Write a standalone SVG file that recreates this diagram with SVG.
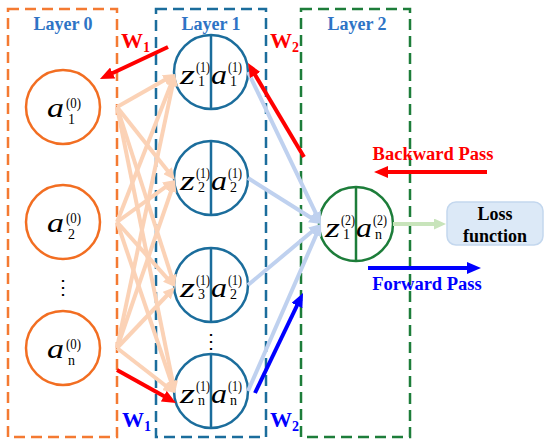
<svg xmlns="http://www.w3.org/2000/svg" width="550" height="447" viewBox="0 0 550 447">
<style>
.box{fill:none;stroke-width:2.5;stroke-dasharray:11 6}
.lbl{font-family:'Liberation Serif','Times New Roman',serif;font-weight:bold;font-size:18px;fill:#2e74c5;text-anchor:middle}
.n0{fill:#fff;stroke:#f26e22;stroke-width:2.5}
.n1{fill:#fff;stroke:#1b6d9c;stroke-width:2.5}
.n2{fill:#fff;stroke:#1d7d3a;stroke-width:2.5}
.mi{font-family:'Liberation Serif','Times New Roman',serif;font-style:italic;font-size:28px;fill:#000}
.ms{font-family:'Liberation Serif','Times New Roman',serif;font-size:14px;fill:#000}
.lo{stroke:#fbd2b6;stroke-width:4;fill:none;marker-end:url(#mo)}
.lb{stroke:#bfd1ef;stroke-width:4;fill:none;marker-end:url(#mb)}
.red{stroke:#ff0000;stroke-width:4;fill:none;marker-end:url(#mr)}
.blu{stroke:#0000ff;stroke-width:4;fill:none;marker-end:url(#mu)}
.wr{font-family:'Liberation Serif','Times New Roman',serif;font-weight:bold;font-size:22px;fill:#ff0000}
.wb{font-family:'Liberation Serif','Times New Roman',serif;font-weight:bold;font-size:22px;fill:#0000ff}
.ws{font-size:14px}
.pass{font-family:'Liberation Serif','Times New Roman',serif;font-weight:bold;font-size:18.5px;text-anchor:middle}
.loss{font-family:'Liberation Serif','Times New Roman',serif;font-weight:bold;font-size:18px;text-anchor:middle;fill:#000}
.dot{font-family:'DejaVu Serif',serif;font-size:20px;text-anchor:middle;fill:#000}
</style>
<defs>
<marker id="mr" markerUnits="userSpaceOnUse" viewBox="0 0 14 12" markerWidth="14" markerHeight="12" refX="4" refY="6" orient="auto"><path d="M0,0 L14,6 L0,12 z" fill="#ff0000"/></marker>
<marker id="mu" markerUnits="userSpaceOnUse" viewBox="0 0 14 12" markerWidth="14" markerHeight="12" refX="4" refY="6" orient="auto"><path d="M0,0 L14,6 L0,12 z" fill="#0000ff"/></marker>
<marker id="mo" markerUnits="userSpaceOnUse" viewBox="0 0 12 11" markerWidth="12" markerHeight="11" refX="3" refY="5.5" orient="auto"><path d="M0,0 L12,5.5 L0,11 z" fill="#fbd2b6"/></marker>
<marker id="mb" markerUnits="userSpaceOnUse" viewBox="0 0 12 11" markerWidth="12" markerHeight="11" refX="3" refY="5.5" orient="auto"><path d="M0,0 L12,5.5 L0,11 z" fill="#bfd1ef"/></marker>
<marker id="mg" markerUnits="userSpaceOnUse" viewBox="0 0 12 11" markerWidth="12" markerHeight="11" refX="3" refY="5.5" orient="auto"><path d="M0,0 L12,5.5 L0,11 z" fill="#c8e4bb"/></marker>
</defs>
<rect width="550" height="447" fill="#fff"/>

<g id="layer0-box">
<rect class="box" x="8" y="9" width="109" height="428" stroke="#f47a32"/>
<text class="lbl" x="63" y="30">Layer 0</text>
</g>
<g id="layer1-box">
<rect class="box" x="156" y="9" width="110" height="428" stroke="#1b6d9c"/>
<text class="lbl" x="211" y="30">Layer 1</text>
</g>
<g id="layer2-box">
<rect class="box" x="301" y="9" width="109" height="428" stroke="#1d7d3a"/>
<text class="lbl" x="357" y="30">Layer 2</text>
</g>

<g id="a0-1">
<circle class="n0" cx="63" cy="107" r="37"/>
<text class="mi" x="47" y="117" textLength="17" lengthAdjust="spacingAndGlyphs">a</text><text class="ms" x="66" y="108" textLength="15" lengthAdjust="spacingAndGlyphs">(0)</text><text class="ms" x="68" y="124">1</text>
</g>
<g id="a0-2">
<circle class="n0" cx="63" cy="222" r="37"/>
<text class="mi" x="47" y="232" textLength="17" lengthAdjust="spacingAndGlyphs">a</text><text class="ms" x="66" y="223" textLength="15" lengthAdjust="spacingAndGlyphs">(0)</text><text class="ms" x="68" y="239">2</text>
</g>
<g id="a0-dots"><text class="dot" x="63" y="294">⋮</text></g>
<g id="a0-n">
<circle class="n0" cx="63" cy="348" r="37"/>
<text class="mi" x="47" y="358" textLength="17" lengthAdjust="spacingAndGlyphs">a</text><text class="ms" x="66" y="349" textLength="15" lengthAdjust="spacingAndGlyphs">(0)</text><text class="ms" x="68" y="365">n</text>
</g>

<g id="h1-1">
<circle class="n1" cx="211" cy="72" r="37"/><line x1="211" y1="35" x2="211" y2="109" stroke="#1b6d9c" stroke-width="2.5"/>
<text class="mi" x="180" y="84" textLength="15" lengthAdjust="spacingAndGlyphs">z</text><text class="ms" x="196" y="72" textLength="14" lengthAdjust="spacingAndGlyphs">(1)</text><text class="ms" x="198" y="86">1</text>
<text class="mi" x="211" y="84" textLength="16" lengthAdjust="spacingAndGlyphs">a</text><text class="ms" x="228" y="72" textLength="14" lengthAdjust="spacingAndGlyphs">(1)</text><text class="ms" x="230" y="86">1</text>
</g>
<g id="h1-2">
<circle class="n1" cx="211" cy="178" r="37"/><line x1="211" y1="141" x2="211" y2="215" stroke="#1b6d9c" stroke-width="2.5"/>
<text class="mi" x="180" y="190" textLength="15" lengthAdjust="spacingAndGlyphs">z</text><text class="ms" x="196" y="178" textLength="14" lengthAdjust="spacingAndGlyphs">(1)</text><text class="ms" x="198" y="192">2</text>
<text class="mi" x="211" y="190" textLength="16" lengthAdjust="spacingAndGlyphs">a</text><text class="ms" x="228" y="178" textLength="14" lengthAdjust="spacingAndGlyphs">(1)</text><text class="ms" x="230" y="192">2</text>
</g>
<g id="h1-3">
<circle class="n1" cx="211" cy="285" r="37"/><line x1="211" y1="248" x2="211" y2="322" stroke="#1b6d9c" stroke-width="2.5"/>
<text class="mi" x="180" y="297" textLength="15" lengthAdjust="spacingAndGlyphs">z</text><text class="ms" x="196" y="285" textLength="14" lengthAdjust="spacingAndGlyphs">(1)</text><text class="ms" x="198" y="299">3</text>
<text class="mi" x="211" y="297" textLength="16" lengthAdjust="spacingAndGlyphs">a</text><text class="ms" x="228" y="285" textLength="14" lengthAdjust="spacingAndGlyphs">(1)</text><text class="ms" x="230" y="299">2</text>
</g>
<g id="h1-dots"><text class="dot" x="211" y="348">⋮</text></g>
<g id="h1-n">
<circle class="n1" cx="211" cy="391" r="37"/><line x1="211" y1="354" x2="211" y2="428" stroke="#1b6d9c" stroke-width="2.5"/>
<text class="mi" x="180" y="403" textLength="15" lengthAdjust="spacingAndGlyphs">z</text><text class="ms" x="196" y="391" textLength="14" lengthAdjust="spacingAndGlyphs">(1)</text><text class="ms" x="198" y="405">n</text>
<text class="mi" x="211" y="403" textLength="16" lengthAdjust="spacingAndGlyphs">a</text><text class="ms" x="228" y="391" textLength="14" lengthAdjust="spacingAndGlyphs">(1)</text><text class="ms" x="230" y="405">n</text>
</g>

<g id="out">
<circle class="n2" cx="356" cy="224" r="37"/><line x1="356" y1="187" x2="356" y2="261" stroke="#1d7d3a" stroke-width="2.5"/>
<text class="mi" x="325" y="237" textLength="15" lengthAdjust="spacingAndGlyphs">z</text><text class="ms" x="341" y="225" textLength="14" lengthAdjust="spacingAndGlyphs">(2)</text><text class="ms" x="343" y="239">1</text>
<text class="mi" x="356" y="237" textLength="16" lengthAdjust="spacingAndGlyphs">a</text><text class="ms" x="373" y="225" textLength="14" lengthAdjust="spacingAndGlyphs">(2)</text><text class="ms" x="375" y="239">n</text>
</g>

<g id="loss">
<rect x="447" y="202" width="96" height="43" rx="9" fill="#dce9f7" stroke="#c3d7ee" stroke-width="1.5"/>
<text class="loss" x="495" y="220">Loss</text>
<text class="loss" x="495" y="242">function</text>
</g>

<g id="connectors">
<line class="lo" x1="117" y1="107" x2="167.2" y2="78.5"/>
<line class="lo" x1="117" y1="107" x2="169.4" y2="173.0"/>
<line class="lo" x1="117" y1="107" x2="172.2" y2="278.4"/>
<line class="lo" x1="117" y1="107" x2="173.2" y2="384.2"/>
<line class="lo" x1="117" y1="222" x2="171.7" y2="82.4"/>
<line class="lo" x1="117" y1="222" x2="167.7" y2="185.3"/>
<line class="lo" x1="117" y1="222" x2="169.0" y2="280.3"/>
<line class="lo" x1="117" y1="222" x2="172.1" y2="384.5"/>
<line class="lo" x1="117" y1="348" x2="173.1" y2="82.8"/>
<line class="lo" x1="117" y1="348" x2="172.1" y2="188.5"/>
<line class="lo" x1="117" y1="348" x2="168.8" y2="293.5"/>
<line class="lo" x1="117" y1="348" x2="167.9" y2="387.5"/>
<line class="lb" x1="248" y1="72" x2="317.1" y2="215.9"/>
<line class="lb" x1="248" y1="178" x2="313.4" y2="219.2"/>
<line class="lb" x1="248" y1="285" x2="314.1" y2="229.8"/>
<line class="lb" x1="248" y1="391" x2="317.4" y2="232.2"/>
<line x1="393" y1="224" x2="437" y2="224" stroke="#c8e4bb" stroke-width="4" marker-end="url(#mg)"/>
<line class="red" x1="168" y1="47" x2="109" y2="74.7"/>
<line class="red" x1="304" y1="157" x2="253.1" y2="71.6"/>
<line class="red" x1="117" y1="370" x2="167.3" y2="398.1"/>
<line class="blu" x1="255" y1="393" x2="298.7" y2="302"/>
<line class="red" x1="487" y1="172" x2="384" y2="172"/>
<line class="blu" x1="368" y1="268" x2="471" y2="268"/>
</g>

<g id="labels">
<text class="wr" x="121" y="48">W<tspan class="ws" dy="4">1</tspan></text>
<text class="wr" x="270" y="48">W<tspan class="ws" dy="4">2</tspan></text>
<text class="wb" x="122" y="427">W<tspan class="ws" dy="4">1</tspan></text>
<text class="wb" x="270" y="427">W<tspan class="ws" dy="4">2</tspan></text>
<text class="pass" x="433" y="160" fill="#ff0000">Backward Pass</text>
<text class="pass" x="427" y="290" fill="#0000ff">Forward Pass</text>
</g>
</svg>
